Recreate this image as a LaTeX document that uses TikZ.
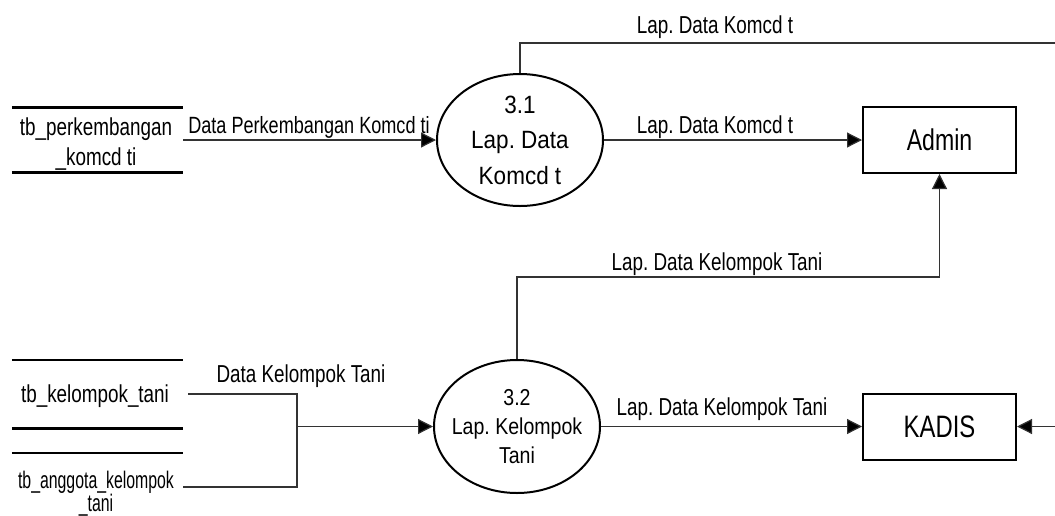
\documentclass[tikz,border=0pt]{standalone}
\usepackage{fontspec}
\setmainfont{Liberation Sans}
\newfontfamily\labelfont[FakeStretch=0.77]{Liberation Sans}
\newfontfamily\procAfont[FakeStretch=0.90]{Liberation Sans}
\newfontfamily\procBfont[FakeStretch=0.85]{Liberation Sans}
\newfontfamily\narrowfont[FakeStretch=0.66]{Liberation Sans}
\usetikzlibrary{arrows.meta,shapes.geometric}

\begin{document}
\frenchspacing
\begin{tikzpicture}[x=1pt,y=-1pt,
  flow/.style={line width=1.2pt, draw=black!80},
  arr/.style={flow, -{Triangle[length=15pt,width=15pt,fill=black]}},
  proc/.style={ellipse, draw, line width=2pt, inner xsep=-12pt, inner ysep=0pt,
    align=center, minimum width=166pt, minimum height=132pt},
  ent/.style={rectangle, draw, line width=2pt, inner sep=0pt,
    minimum width=153pt, minimum height=66pt},
  store/.style={inner sep=0pt, minimum width=171pt},
  storeline/.style={line width=2.6pt},
  txt/.style={inner sep=0pt, align=center},
  lbl/.style={font=\labelfont\fontsize{24.5}{24.5}\selectfont, anchor=base, inner sep=0pt},
]
\useasboundingbox (0,0) rectangle (1055,515);

% data stores
\node[store, minimum height=65pt] (s1) at (97.5,140) {};
\draw[storeline] (s1.north west) -- (s1.north east) (s1.south west) -- (s1.south east);
\node[txt, font=\labelfont\fontsize{24.5}{30}\selectfont] (s1t) at (96,143.6)
  {tb\_perkembangan\\\_komcd ti};

\node[store, minimum height=68pt] (s2a) at (97.5,394) {};
\draw[storeline] (s2a.north west) -- (s2a.north east) (s2a.south west) -- (s2a.south east);
\node[lbl] (s2at) at (95,402) {tb\_kelompok\_tani};

\node[store, minimum height=68pt] (s2b) at (97.5,487) {};
\draw[storeline] (s2b.north west) -- (s2b.north east);
\node[txt, font=\narrowfont\fontsize{24}{18}\selectfont] (s2bt) at (96,493.8)
  {tb\_anggota\_kelompok\\\_tani};

% processes
\node[proc, font=\procAfont\fontsize{25}{35.5}\selectfont] (p31) at (520,140)
  {3.1\\Lap. Data\\Komcd t};
\node[proc, font=\procBfont\fontsize{23}{29}\selectfont, minimum height=133pt] (p32) at (517,426.5)
  {3.2\\Lap. Kelompok\\Tani};

% external entities
\node[ent, font=\labelfont\fontsize{30}{30}\selectfont] (admin) at (939.5,140) {Admin};
\node[ent, font=\labelfont\fontsize{31}{31}\selectfont] (kadis) at (939.5,426.5) {KADIS};

% flows of process 3.1
\coordinate (topR) at (1055,43);
\draw[arr] (s1.east) -- (p31.west);
\draw[flow] (p31.north) |- (topR);
\draw[arr] (p31.east) -- (admin.west);

% flows of process 3.2
\coordinate (j) at (297,426.5);
\coordinate (k1) at (939.5,277);
\coordinate (kR) at (1055,426.5);
\draw[flow] ([xshift=5pt]s2a.east) -| (j);
\draw[flow] (s2b.east) -| (j);
\draw[arr] (j) -- (p32.west);
\draw[arr] (p32.north) |- (k1) -- (admin.south);
\draw[arr] (p32.east) -- (kadis.west);
\draw[arr] (kR) -- (kadis.east);

% flow labels
\node[lbl] (l1) at (715,33) {Lap. Data Komcd t};
\node[lbl] (l2) at (715,133) {Lap. Data Komcd t};
\node[lbl, font=\labelfont\fontsize{23.5}{23.5}\selectfont] (l3) at (309,133) {Data Perkembangan Komcd ti};
\node[lbl] (l4) at (717,270) {Lap. Data Kelompok Tani};
\node[lbl] (l5) at (301,382) {Data Kelompok Tani};
\node[lbl] (l6) at (722,415) {Lap. Data Kelompok Tani};
\end{tikzpicture}
\end{document}
